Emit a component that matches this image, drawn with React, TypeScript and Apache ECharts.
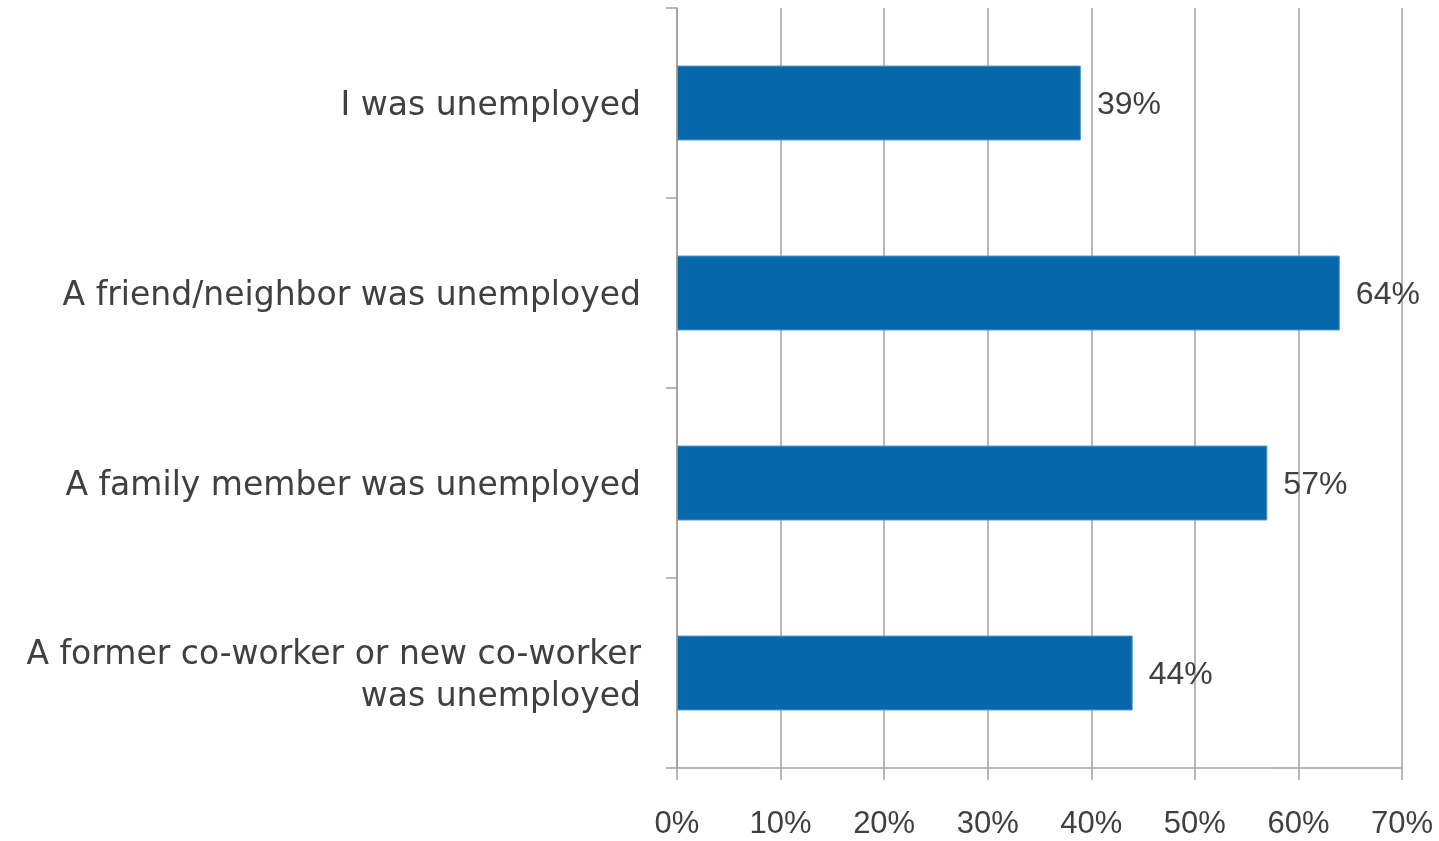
import React, { useEffect, useRef } from "react";
import * as echarts from "echarts";

const categories = [
  "I was unemployed",
  "A friend/neighbor was unemployed",
  "A family member was unemployed",
  "A former co-worker or new co-worker\nwas unemployed",
];
const values = [39, 64, 57, 44];
const xTicks = [0, 10, 20, 30, 40, 50, 60, 70];

export default function App() {
  const ref = useRef<HTMLDivElement>(null);
  useEffect(() => {
    const chart = echarts.init(ref.current!, null, { renderer: "svg" });
    const font = "'Liberation Sans', Arial, sans-serif";
    const catFont = "'DejaVu Sans', Verdana, sans-serif";
    chart.setOption({
      animation: false,
      grid: { left: 677, right: 37, top: 8, bottom: 73, containLabel: false },
      xAxis: {
        type: "value",
        min: xTicks[0],
        max: xTicks[xTicks.length - 1],
        interval: 10,
        axisLine: { show: true, lineStyle: { color: "#a0a0a0", width: 1.5 } },
        axisTick: { show: true, length: 12, lineStyle: { color: "#a0a0a0", width: 1.5 } },
        splitLine: { show: true, lineStyle: { color: "#a0a0a0", width: 1.5 } },
        axisLabel: {
          formatter: (v: number) => v + "%",
          color: "#404040",
          fontSize: 31,
          fontFamily: font,
          margin: 39,
        },
      },
      yAxis: {
        type: "category",
        data: categories,
        inverse: true,
        axisLine: { show: true, lineStyle: { color: "#a0a0a0", width: 1.5 } },
        axisTick: { show: true, length: 11, lineStyle: { color: "#a0a0a0", width: 1.5 } },
        axisLabel: {
          color: "#404040",
          fontSize: 33,
          fontFamily: catFont,
          margin: 36,
          align: "right",
          lineHeight: 42,
        },
      },
      series: [
        {
          type: "bar",
          data: values,
          barWidth: 75,
          itemStyle: { color: "#0767AB", borderColor: "#5b9bd0", borderWidth: 1 },
          label: {
            show: true,
            position: "right",
            distance: 16,
            formatter: (p: any) => p.value + "%",
            color: "#404040",
            fontSize: 32,
            fontFamily: font,
          },
        },
      ],
    });
    return () => chart.dispose();
  }, []);
  return (
    <div
      ref={ref}
      style={{ position: "fixed", left: 0, top: 0, width: 1439, height: 841 }}
    />
  );
}
